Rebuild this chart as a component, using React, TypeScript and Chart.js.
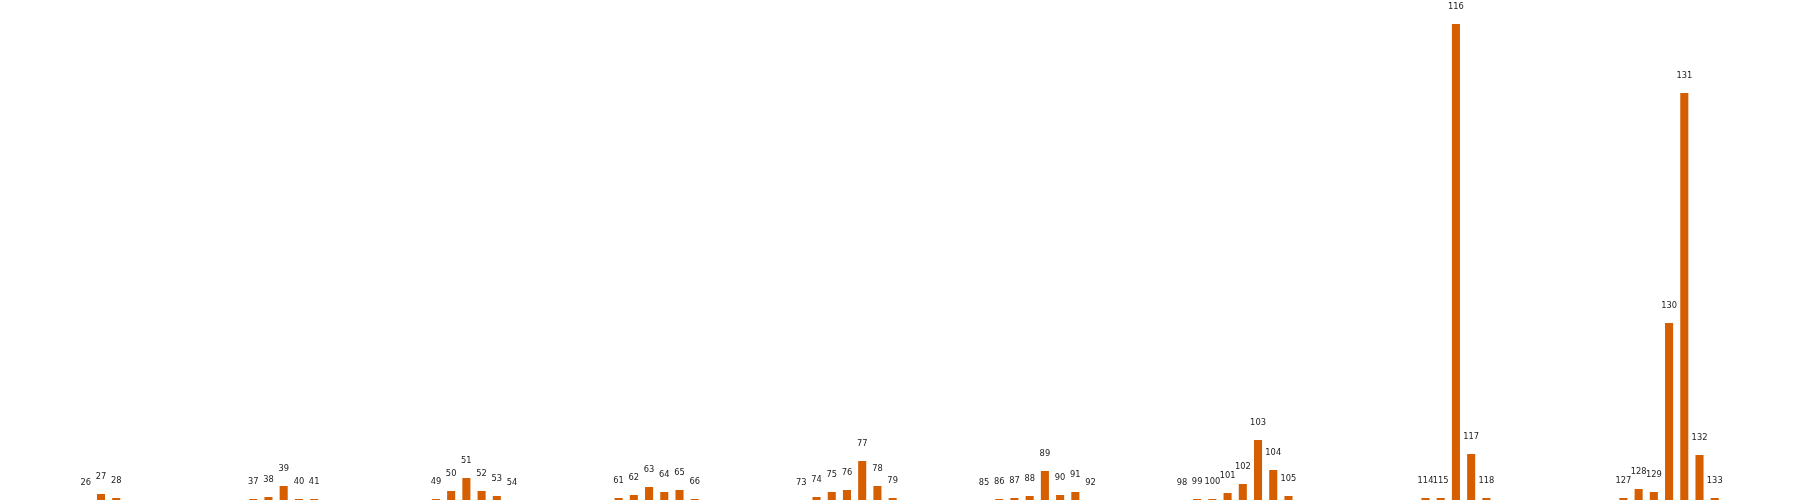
import React, { useEffect, useRef } from "react";
import { Chart, registerables } from "chart.js";

Chart.register(...registerables);

// Bar positions (index numbers, also used as the labels above the bars)
const barIndices: number[] = [
  26, 27, 28,
  37, 38, 39, 40, 41,
  49, 50, 51, 52, 53, 54,
  61, 62, 63, 64, 65, 66,
  73, 74, 75, 76, 77, 78, 79,
  85, 86, 87, 88, 89, 90, 91, 92,
  98, 99, 100, 101, 102, 103, 104, 105,
  114, 115, 116, 117, 118,
  127, 128, 129, 130, 131, 132, 133,
];

// Bar heights
const barValues: number[] = [
  0, 6, 2,
  1, 3, 14, 1, 1,
  1, 9, 22, 9, 4, 0,
  2, 5, 13, 8, 10, 1,
  0, 3, 8, 10, 39, 14, 2,
  0, 1, 2, 4, 29, 5, 8, 0,
  0, 1, 1, 7, 16, 60, 30, 4,
  2, 2, 476, 46, 2,
  2, 11, 8, 177, 407, 45, 2,
];

const X_MIN = 20.366;
const X_MAX = 138.6;
const Y_MIN = 0;
const Y_MAX = 500;

const labelPlugin = {
  id: "barIndexLabels",
  afterDatasetsDraw(chart: any) {
    const ctx = chart.ctx;
    const meta = chart.getDatasetMeta(0);
    ctx.save();
    ctx.font = '8.3px "DejaVu Sans"';
    ctx.fillStyle = "#222222";
    ctx.textAlign = "center";
    ctx.textBaseline = "alphabetic";
    meta.data.forEach((bar: any, i: number) => {
      ctx.fillText(String(barIndices[i]), bar.x, bar.y - 15);
    });
    ctx.restore();
  },
};

export default function App() {
  const canvasRef = useRef<HTMLCanvasElement | null>(null);

  useEffect(() => {
    document.body.style.margin = "0";
    const canvas = canvasRef.current;
    if (!canvas) return;
    const chart = new Chart(canvas, {
      type: "bar",
      data: {
        datasets: [
          {
            data: barIndices.map((x, i) => ({ x, y: barValues[i] })),
            backgroundColor: "#d55e00",
            borderWidth: 0,
            barPercentage: 0.53,
            categoryPercentage: 1,
          },
        ],
      },
      options: {
        animation: false,
        responsive: false,
        devicePixelRatio: 1,
        layout: { padding: 0 },
        plugins: {
          legend: { display: false },
          tooltip: { enabled: false },
          title: { display: false },
        },
        scales: {
          x: {
            type: "linear",
            min: X_MIN,
            max: X_MAX,
            offset: false,
            display: false,
          },
          y: {
            type: "linear",
            min: Y_MIN,
            max: Y_MAX,
            display: false,
          },
        },
      },
      plugins: [labelPlugin],
    });
    return () => chart.destroy();
  }, []);

  return (
    <div style={{ position: "fixed", left: 0, top: 0, width: 1800, height: 500, background: "#fff" }}>
      <canvas ref={canvasRef} width={1800} height={500} style={{ display: "block" }} />
    </div>
  );
}
